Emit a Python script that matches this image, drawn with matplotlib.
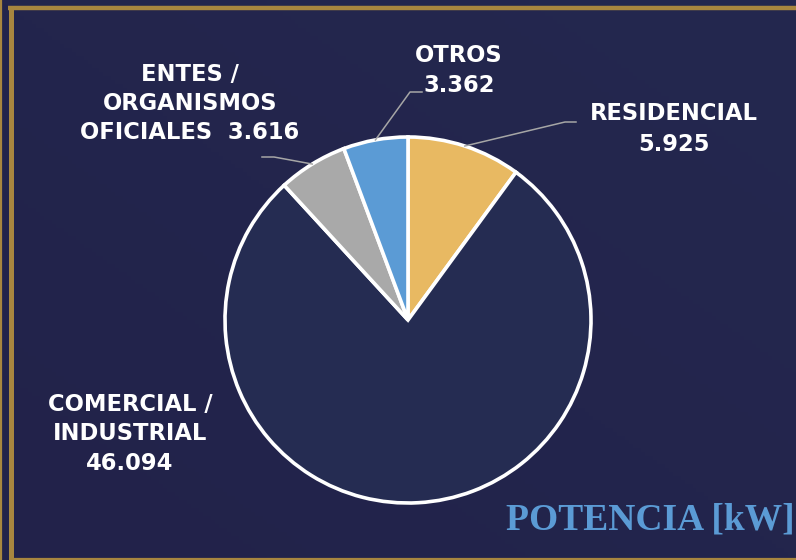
import numpy as np
import matplotlib
matplotlib.use("Agg")
import matplotlib.pyplot as plt

categories = ["RESIDENCIAL", "COMERCIAL /\nINDUSTRIAL", "ENTES /\nORGANISMOS\nOFICIALES", "OTROS"]
values = [5.925, 46.094, 3.616, 3.362]
value_labels = ["5.925", "46.094", "3.616", "3.362"]
colors = ["#E8B962", "#252C52", "#A9A9A9", "#5B9BD5"]
title = "POTENCIA [kW]"

W, H = 796, 560
fig = plt.figure(figsize=(W / 100, H / 100), dpi=100)
ax = fig.add_axes([0, 0, 1, 1])
ax.set_xlim(0, W)
ax.set_ylim(0, H)
ax.set_aspect("equal")
ax.axis("off")

# background gradient (subtle)
gx, gy = np.meshgrid(np.linspace(0, 1, 200), np.linspace(0, 1, 140))
t = np.clip(0.5 * gx + 0.5 * (1 - gy), 0, 1)
c0 = np.array([0x22, 0x22, 0x4A]) / 255
c1 = np.array([0x24, 0x28, 0x4F]) / 255
img = c0[None, None, :] * (1 - t[..., None]) + c1[None, None, :] * t[..., None]
ax.imshow(img, extent=[0, W, 0, H], origin="upper", zorder=0, aspect="auto")

# gold frame
gold = "#A8863F"
ax.plot([8, W], [H - 8, H - 8], color=gold, lw=3.2, zorder=1, solid_capstyle="butt")
ax.plot([10.5, 10.5], [0, H - 6.4], color=gold, lw=3.6, zorder=1, solid_capstyle="butt")
ax.plot([1, 1], [0, H], color=gold, lw=1.6, zorder=1)
ax.plot([12, W], [1, 1], color=gold, lw=1.6, zorder=1)

cx, cy, R = 408, H - 320, 183
wedges, _ = ax.pie(values, colors=colors, startangle=90, counterclock=False,
                   center=(cx, cy), radius=R,
                   wedgeprops=dict(edgecolor="white", linewidth=2.6), frame=True)
ax.set_xlim(0, W)
ax.set_ylim(0, H)
ax.axis("off")

font = dict(family="DejaVu Sans", fontweight="bold", color="white", fontsize=16.3)
ls = 1.34
line_col = "#A6A6A6"

def mid_point(w):
    a = np.deg2rad((w.theta1 + w.theta2) / 2)
    return cx + R * np.cos(a), cy + R * np.sin(a)

# Residencial
px, py = mid_point(wedges[0])
ax.plot([px, 565, 576], [py, H - 122, H - 122], color=line_col, lw=1.1, zorder=3)
ax.text(674, H - 129, categories[0] + "\n" + value_labels[0], ha="center", va="center",
        linespacing=1.4, **font)
# Otros
px, py = mid_point(wedges[3])
ax.plot([px, 410, 422], [py, H - 92, H - 92], color=line_col, lw=1.1, zorder=3)
ax.text(459, H - 70.5, categories[3] + "\n" + value_labels[3], ha="center", va="center",
        linespacing=ls, **font)
# Entes
px, py = mid_point(wedges[2])
ax.plot([px, 274, 262], [py, H - 157, H - 157], color=line_col, lw=1.1, zorder=3)
lines = categories[2].split("\n")
ax.text(190, H - 103.5, lines[0] + "\n" + lines[1] + "\n" + lines[2] + "  " + value_labels[2],
        ha="center", va="center", linespacing=ls, **font)
# Comercial
ax.text(130, H - 434, categories[1] + "\n" + value_labels[1], ha="center", va="center",
        linespacing=ls, **font)

ax.text(795, H - 520, title, ha="right", va="center", family="Liberation Serif",
        fontweight="bold", color="#5B9BD5", fontsize=27, zorder=4)

fig.savefig("out.png", dpi=100, facecolor="#22234A")
